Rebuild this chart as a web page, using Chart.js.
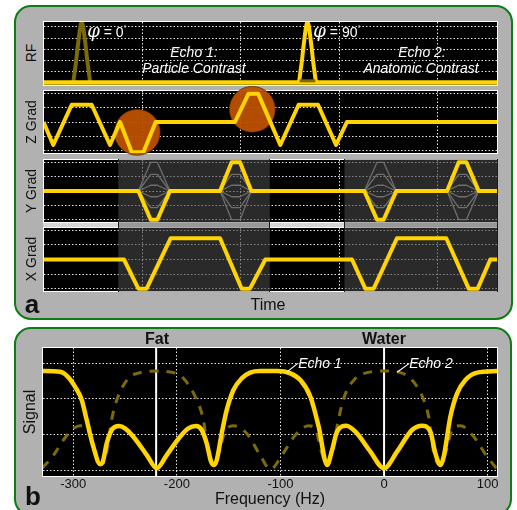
<!DOCTYPE html>
<html>
<head>
<meta charset="utf-8">
<title>Echo contrast</title>
<script src="https://cdn.jsdelivr.net/npm/chart.js@4"></script>
<style>
    html, body { margin: 0; padding: 0; background: #fff; overflow: hidden; }
    #page { position: relative; width: 517px; height: 510px; overflow: hidden; font-family: "Liberation Sans", Arial, sans-serif; }
    .panel { position: absolute; box-sizing: border-box; background: #b1b1b1; border: 2.5px solid #0b7d12; border-radius: 17px; }
    .frame { position: absolute; background: #fff; }
    .gap { position: absolute; background: #d6d6d6; }
    .shade { position: absolute; background: rgba(90, 90, 90, 0.5); border-left: 1px solid #1c1c1c; border-right: 1px solid #1c1c1c; box-sizing: border-box; }
    canvas { position: absolute; }
    .txt { position: absolute; white-space: nowrap; transform: translate(-50%, -50%); color: #111; line-height: 1; }
    .rot { transform: translate(-50%, -50%) rotate(-90deg); }
    .note { color: #fff; font-style: italic; font-size: 14px; text-shadow: 0 0 2px #000; }
    .upright { font-style: normal; }
    .phi { font-family: "DejaVu Serif", serif; font-style: italic; font-size: 18px; }
    .deg { font-size: 8px; vertical-align: 6px; }
    .bold { font-weight: bold; }
</style>
</head>
<body>
<div id="page">
    <div class="panel" style="left:14px;top:5px;width:499px;height:315px"></div>
    <div class="panel" style="left:14px;top:327px;width:498px;height:189px"></div>

    <div class="frame" style="left:43px;top:21px;width:455px;height:65px"></div>
    <div class="frame" style="left:43px;top:90px;width:455px;height:64px"></div>
    <div class="frame" style="left:43px;top:159px;width:455px;height:64px"></div>
    <div class="frame" style="left:43px;top:227px;width:455px;height:65px"></div>
    <div class="frame" style="left:42px;top:347px;width:456px;height:130px"></div>
    <div class="gap" style="left:43px;top:223px;width:455px;height:4px"></div>

    <div id="shade1" class="shade"></div>
    <div id="shade2" class="shade"></div>

    <canvas id="rf" width="453" height="63" style="left:44px;top:22px"></canvas>
    <canvas id="zgrad" width="453" height="74" style="left:44px;top:84px"></canvas>
    <canvas id="ygrad" width="453" height="62" style="left:44px;top:160px"></canvas>
    <canvas id="xgrad" width="453" height="63" style="left:44px;top:228px"></canvas>
    <canvas id="signal" width="495" height="180" style="left:16px;top:330px"></canvas>

    <div class="txt rot" style="left:31px;top:53px;font-size:14px">RF</div>
    <div class="txt rot" style="left:31px;top:122px;font-size:14px">Z Grad</div>
    <div class="txt rot" style="left:31px;top:191px;font-size:14px">Y Grad</div>
    <div class="txt rot" style="left:31px;top:259px;font-size:14px">X Grad</div>
    <div class="txt" style="left:268px;top:305px;font-size:16px">Time</div>
    <div class="txt bold" style="left:32px;top:304px;font-size:26px">a</div>
    <div class="txt bold" style="left:33px;top:496px;font-size:26px">b</div>
    <div class="txt bold" style="left:157px;top:339px;font-size:16px">Fat</div>
    <div class="txt bold" style="left:384px;top:339px;font-size:16px">Water</div>

    <div class="txt note upright" style="left:107px;top:31px"><span class="phi">φ</span> = 0<span class="deg">°</span></div>
    <div class="txt note upright" style="left:337px;top:31px"><span class="phi">φ</span> = 90<span class="deg">°</span></div>
    <div class="txt note" style="left:194px;top:52px">Echo 1:</div>
    <div class="txt note" style="left:194px;top:68px">Particle Contrast</div>
    <div class="txt note" style="left:422px;top:52px">Echo 2:</div>
    <div class="txt note" style="left:421px;top:68px">Anatomic Contrast</div>
    <div class="txt note" style="left:320px;top:363px">Echo 1</div>
    <div class="txt note" style="left:431px;top:363px">Echo 2</div>
</div>

<script>
//値は元の図から読み取ったもの

// --- pulse sequence (time in ms) ---
const timeMin = 0.05;
const timeMax = 46.04;

const rfBaseTime = [0, 46.1];
const rfBaseValue = [0, 0];
const rfPulse1Time = [3.02, 3.17, 3.32, 3.44, 3.58, 3.73, 3.88, 4.03, 4.18, 4.32, 4.44, 4.59, 4.74];
const rfPulse2Time = [25.94, 26.09, 26.24, 26.36, 26.5, 26.65, 26.8, 26.95, 27.1, 27.24, 27.36, 27.51, 27.66];
const rfPulseValue = [0, 0.2, 0.4, 0.6, 0.8, 1, 1.1, 1, 0.8, 0.6, 0.4, 0.2, 0];
const rfPatchTime = [26.0, 27.6];
const rfPatchValue = [0.03, 0.03];

const zTime = [0, 0.99, 2.86, 4.89, 6.75, 7.77, 8.95, 10.14, 11.39, 19.44, 20.8, 21.8, 24.04, 25.9, 27.87, 29.7, 30.8, 46.1];
const zValue = [0, -0.8, 0.6, 0.6, -0.8, 0, -1.05, -1.05, 0, 0, 0.98, 0.98, -0.8, 0.6, 0.6, -0.8, 0, 0];
const zCircleTime = [9.52, 21.2];
const zCircleValue = [-0.36, 0.44];

const yTime = [0, 9.63, 10.88, 11.56, 12.84, 17.92, 19.1, 19.95, 21.1, 32.57, 33.86, 34.53, 35.82, 40.97, 42.15, 42.93, 44.18, 46.1];
const yValue = [0, 0, -1, -1, 0, 0, 1, 1, 0, 0, -1, -1, 0, 0, 1, 1, 0, 0];
const encodeLevels = [1, 0.58, 0.2, -0.2, -0.58, -1];
const encodeLobes = [
    [9.63, 10.88, 11.56, 12.84],
    [17.92, 19.1, 19.95, 21.1],
    [32.57, 33.86, 34.53, 35.82],
    [40.97, 42.15, 42.93, 44.18],
];

const xTime = [0, 8.17, 9.63, 10.47, 12.91, 17.92, 20.12, 20.96, 22.52, 31.32, 32.67, 33.52, 35.89, 40.89, 43.17, 44.08, 45.36, 46.1];
const xValue = [0, 0, -1, -1, 0.73, 0.73, -1, -1, 0, 0, -1, -1, 0.73, 0.73, -1, -1, 0, 0];

const bandStart = [7.59, 30.55];
const bandEnd = [22.97, 46.1];

// --- signal vs frequency ---
const echo1Freq = [-330, -312.7, -304.7, -298.3, -291.8, -287, -280.6, -274.1, -271.9, -267.7, -262.9, -255.8, -250, -242, -229, -219.4,
    -209.8, -196.9, -188.9, -181.5, -176, -171.2, -167, -164.7, -161.5, -156.7, -151.9, -145.4, -137.4, -129.3, -119.7, -103.3,
    -90.4, -80.8, -71.1, -63.1, -55, -50.2, -45.4, -36.4, -27.7, -13.2, 0, 12.5, 27, 36.7, 44.7, 49.5, 54.4, 57.6, 64, 70.5, 78.5, 89.8, 110];
const echo1Signal = [0.695, 0.69, 0.651, 0.585, 0.492, 0.351, 0.164, 0.042, 0.051, 0.187, 0.281, 0.309, 0.293, 0.234, 0.105, 0.012,
    0.105, 0.234, 0.293, 0.309, 0.281, 0.187, 0.059, 0.035, 0.07, 0.257, 0.421, 0.562, 0.644, 0.684, 0.695, 0.695,
    0.679, 0.632, 0.515, 0.304, 0.035, 0.14, 0.269, 0.311, 0.269, 0.129, 0.012, 0.129, 0.281, 0.311, 0.269, 0.117, 0.035, 0.094, 0.375, 0.538, 0.632, 0.684, 0.695];
const echo2Freq = [-330, -319, -309.6, -301.5, -293.4, -287.6, -283, -277, -274, -268, -263, -258, -246.8, -235.5, -219.4,
    -203.3, -193.7, -180.8, -174.4, -169.6, -164.7, -160, -153.5, -145.4, -132.6, -119.7, -109.7,
    -98.5, -85.6, -72.7, -66.3, -60, -55, -50.2, -45.4, -39, -27.7, -16.4, 0, 15.8, 27, 38.3, 43, 48, 54.4, 59.2, 65.6, 73.7, 86.6, 99.4, 108.4];
const echo2Signal = [0.012, 0.105, 0.21, 0.281, 0.311, 0.3, 0.234, 0.07, 0.035, 0.117, 0.351, 0.492, 0.644, 0.684, 0.695,
    0.684, 0.644, 0.492, 0.351, 0.117, 0.035, 0.117, 0.269, 0.311, 0.257, 0.105, 0.005,
    0.105, 0.246, 0.311, 0.286, 0.117, 0.035, 0.117, 0.304, 0.503, 0.644, 0.684, 0.695, 0.684, 0.632, 0.492, 0.375, 0.117, 0.035, 0.117, 0.281, 0.311, 0.234, 0.094, 0.012];
const freqTicks = [-300, -200, -100, 0, 100];
const chemShift = [-220, 0];
const signalRange = [-0.042, 0.857];
const label1Freq = [-94.2, -83.3];
const label1Signal = [0.686, 0.749];
const label2Freq = [12.5, 24.4];
const label2Signal = [0.686, 0.749];

const YELLOW = "#ffd400";
const OLIVE = "#7d6a08";
const GRID = "rgba(255,255,255,0.9)";

//x,y の配列を点の配列にする
function pts(xs, ys) {
    return xs.map(function (x, i) {
        return { x: x, y: ys[i] };
    });
}

function line(xs, ys, color, width, more) {
    return Object.assign({
        type: "line",
        data: pts(xs, ys),
        borderColor: color,
        borderWidth: width,
        pointRadius: 0,
        tension: 0,
        borderJoinStyle: "round",
        borderCapStyle: "butt",
        fill: false,
    }, more || {});
}

//プロット領域を黒で塗る
const blackArea = {
    id: "blackArea",
    beforeDraw(chart) {
        const a = chart.chartArea;
        chart.ctx.save();
        chart.ctx.fillStyle = "#000";
        chart.ctx.fillRect(a.left, a.top, a.width, a.height);
        chart.ctx.restore();
    },
};

//Y Grad, X Grad の灰色の帯
const bands = {
    id: "bands",
    beforeDatasetsDraw(chart) {
        const a = chart.chartArea;
        const xs = chart.scales.x;
        chart.ctx.save();
        chart.ctx.fillStyle = "rgba(70,70,70,0.6)";
        bandStart.forEach(function (s, i) {
            const left = xs.getPixelForValue(s);
            const right = Math.min(xs.getPixelForValue(bandEnd[i]), a.right);
            chart.ctx.fillRect(left, a.top, right - left, a.height);
        });
        chart.ctx.restore();
    },
};

function gridScale(min, max, step) {
    return {
        type: "linear",
        min: min,
        max: max,
        ticks: { display: false, stepSize: step, includeBounds: false },
        grid: { color: GRID, lineWidth: 1, drawTicks: false },
        border: { display: false, dash: [1.5, 2] },
    };
}

function timeChart(id, datasets, yMin, yMax, yStep, plugins, padding) {
    return new Chart(document.getElementById(id), {
        type: "line",
        data: { datasets: datasets },
        plugins: plugins,
        options: {
            responsive: false,
            animation: false,
            layout: { autoPadding: false, padding: padding || 0 },
            plugins: { legend: { display: false }, tooltip: { enabled: false } },
            scales: {
                x: gridScale(timeMin, timeMax, 10),
                y: gridScale(yMin, yMax, yStep),
            },
        },
    });
}

timeChart("rf", [
    line(rfPatchTime, rfPatchValue, OLIVE, 3),
    line(rfPulse2Time, rfPulseValue, YELLOW, 4, { tension: 0.3 }),
    line(rfBaseTime, rfBaseValue, YELLOW, 4.5),
    line(rfPulse1Time, rfPulseValue, OLIVE, 4, { tension: 0.3 }),
], -0.045, 1.09, 0.2, [blackArea]);

timeChart("zgrad", [
    line(zTime, zValue, YELLOW, 4),
    {
        type: "bubble",
        data: zCircleTime.map(function (t, i) {
            return { x: t, y: zCircleValue[i], r: 23 };
        }),
        backgroundColor: "rgba(188,80,0,0.95)",
        borderColor: "rgba(60,30,0,0.6)",
        borderWidth: 1,
        clip: false,
    },
], -1.08, 1.08, 0.5, [blackArea], { top: 7, bottom: 5, left: 0, right: 0 });

//位相エンコードの灰色の線
const encodeSets = [];
encodeLobes.forEach(function (lobe) {
    encodeLevels.forEach(function (level) {
        encodeSets.push(line(lobe, [0, level, level, 0], "#6e6e6e", 1.3));
    });
});

timeChart("ygrad", [line(yTime, yValue, YELLOW, 4)].concat(encodeSets), -1.08, 1.08, 0.5, [blackArea, bands]);
const xChart = timeChart("xgrad", [line(xTime, xValue, YELLOW, 4)], -1.08, 1.08, 0.5, [blackArea, bands]);

//パネル間の帯も同じ位置に合わせる
bandStart.forEach(function (s, i) {
    const el = document.getElementById("shade" + (i + 1));
    const left = 44 + xChart.scales.x.getPixelForValue(s);
    const right = Math.min(44 + xChart.scales.x.getPixelForValue(bandEnd[i]), 498);
    el.style.left = left + "px";
    el.style.width = (right - left) + "px";
    el.style.top = "159px";
    el.style.height = "133px";
});

// --- panel b ---
const signalSets = [
    line(label1Freq, label1Signal, "#fff", 1.2),
    line(label2Freq, label2Signal, "#fff", 1.2),
    line(echo1Freq, echo1Signal, YELLOW, 4.5, { cubicInterpolationMode: "monotone" }),
    line(echo2Freq, echo2Signal, OLIVE, 3, { cubicInterpolationMode: "monotone", borderDash: [9, 8] }),
];
chemShift.forEach(function (f) {
    signalSets.push(line([f, f], signalRange, "#fff", 2));
});

const freqScale = gridScale(-329.2, 109, 100);
freqScale.ticks = {
    display: true,
    stepSize: 100,
    includeBounds: false,
    maxRotation: 0,
    color: "#111",
    padding: 1,
    font: { family: "Liberation Sans", size: 13 },
};
freqScale.title = {
    display: true,
    text: "Frequency (Hz)",
    color: "#111",
    font: { family: "Liberation Sans", size: 16 },
    padding: { top: 0, bottom: 1 },
};
freqScale.afterBuildTicks = function (axis) {
    axis.ticks = freqTicks.map(function (v) {
        return { value: v };
    });
};
freqScale.afterFit = function (axis) {
    axis.height = 34;
};

const signalScale = gridScale(signalRange[0], signalRange[1], 0.25);
signalScale.title = {
    display: true,
    text: "Signal",
    color: "#111",
    font: { family: "Liberation Sans", size: 16 },
    padding: { top: 5, bottom: 0 },
};
signalScale.afterFit = function (axis) {
    axis.width = 27;
};

new Chart(document.getElementById("signal"), {
    type: "line",
    data: { datasets: signalSets },
    plugins: [blackArea],
    options: {
        responsive: false,
        animation: false,
        layout: { padding: { top: 18, right: 14, left: 0, bottom: 0 } },
        plugins: { legend: { display: false }, tooltip: { enabled: false } },
        scales: { x: freqScale, y: signalScale },
    },
});
</script>
</body>
</html>
